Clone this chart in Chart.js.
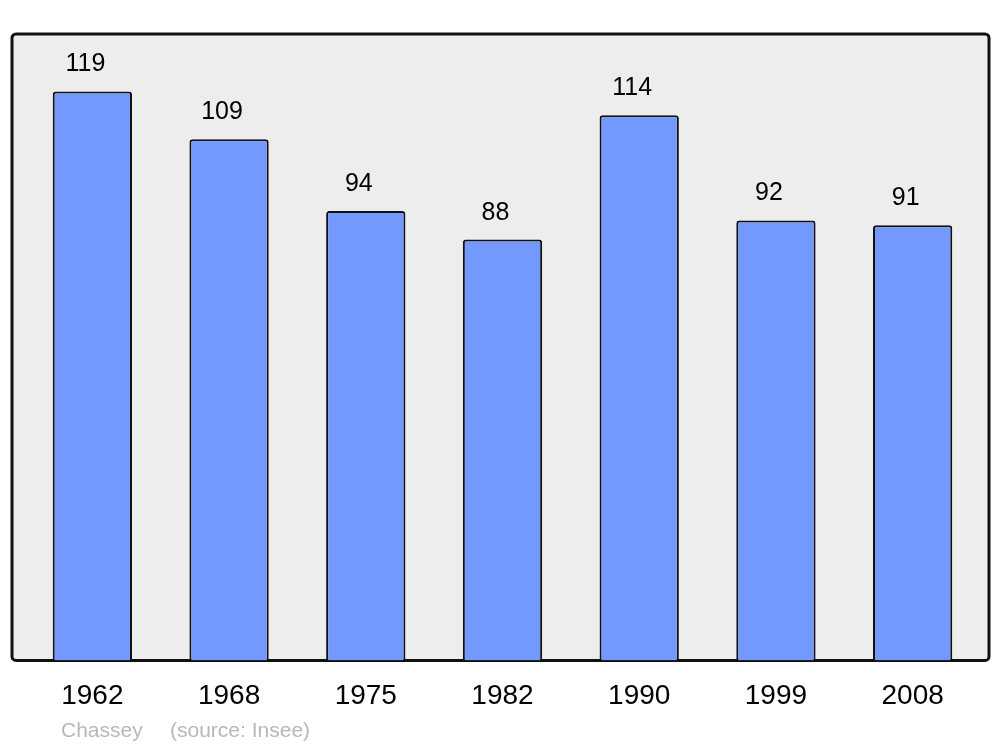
<!DOCTYPE html>
<html>
<head>
<meta charset="utf-8">
<script src="https://cdn.jsdelivr.net/npm/chart.js@4"></script>
<style>
  html, body { margin: 0; padding: 0; background: #ffffff; }
  #wrap { width: 1000px; height: 747px; }
</style>
</head>
<body>
<div id="wrap"><canvas id="popChart" width="1000" height="747"></canvas></div>
<script>
// Population data
const years = ["1962", "1968", "1975", "1982", "1990", "1999", "2008"];
const population = [119, 109, 94, 88, 114, 92, 91];
const footerTexts = ["Chassey", "(source: Insee)"];

const FONT = "'Liberation Sans', Arial, sans-serif";

// grey frame behind the bars
const framePlugin = {
  id: "frame",
  beforeDatasetsDraw(chart) {
    const { ctx, chartArea } = chart;
    const x0 = chartArea.left - 12;
    const x1 = chartArea.right + 8;
    const y0 = chartArea.top;
    const y1 = chartArea.bottom;
    ctx.save();
    ctx.beginPath();
    ctx.roundRect(x0, y0, x1 - x0, y1 - y0, 4);
    ctx.fillStyle = "#ededed";
    ctx.fill();
    ctx.lineWidth = 3;
    ctx.strokeStyle = "#111111";
    ctx.stroke();
    ctx.restore();
  },
};

// value above each bar + footer
const labelPlugin = {
  id: "labels",
  afterDatasetsDraw(chart) {
    const { ctx, chartArea } = chart;
    const meta = chart.getDatasetMeta(0);
    ctx.save();
    ctx.font = "25px " + FONT;
    ctx.fillStyle = "#000000";
    ctx.textAlign = "center";
    ctx.textBaseline = "middle";
    meta.data.forEach((bar, i) => {
      ctx.fillText(String(population[i]), bar.x - 7, bar.y - 27);
    });

    ctx.font = "21px " + FONT;
    ctx.fillStyle = "#b8b8b8";
    ctx.textAlign = "left";
    ctx.fillText(footerTexts[0], chartArea.left + 37, 731);
    ctx.fillText(footerTexts[1], chartArea.left + 146, 731);
    ctx.restore();
  },
};

new Chart(document.getElementById("popChart"), {
  type: "bar",
  data: {
    labels: years,
    datasets: [
      {
        data: population,
        backgroundColor: "#7399ff",
        borderColor: "#111111",
        borderWidth: 2,
        borderRadius: { topLeft: 3, topRight: 3 },
        borderSkipped: "start",
        barPercentage: 0.58,
        categoryPercentage: 1,
      },
    ],
  },
  options: {
    responsive: false,
    animation: false,
    layout: {
      padding: { left: 24, right: 19, top: 34, bottom: 15 },
    },
    plugins: {
      legend: { display: false },
      tooltip: { enabled: false },
    },
    scales: {
      x: {
        grid: { display: false, drawTicks: false },
        border: { display: false },
        ticks: {
          color: "#000000",
          padding: 19,
          font: { family: FONT, size: 28 },
        },
      },
      y: {
        display: false,
        min: 0,
        max: 131,
      },
    },
  },
  plugins: [framePlugin, labelPlugin],
});
</script>
</body>
</html>
